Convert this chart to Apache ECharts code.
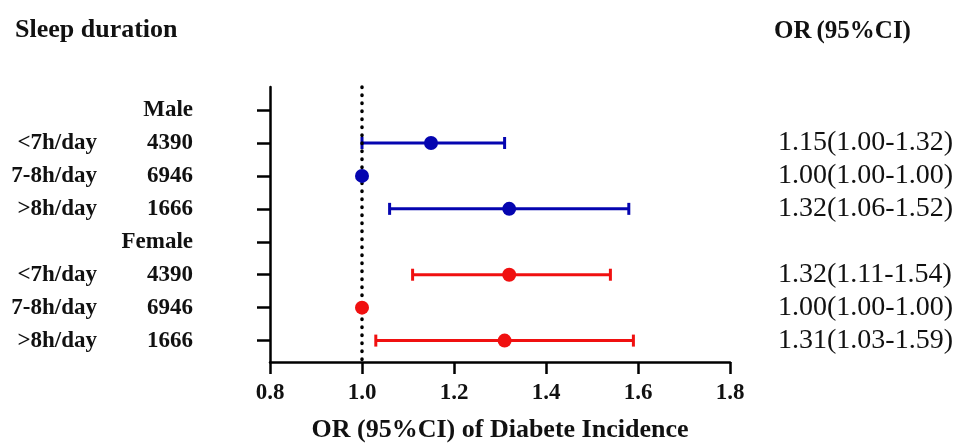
<!DOCTYPE html>
<html>
<head>
<meta charset="utf-8">
<script src="https://cdn.jsdelivr.net/npm/echarts@6/dist/echarts.min.js"></script>
<style>html,body{margin:0;padding:0;background:#fff;}#c{width:956px;height:448px;}</style>
</head>
<body>
<div id="c"></div>
<script>
// Rows, top to bottom
const rowNames  = ['', '<7h/day', '7-8h/day', '>8h/day', '', '<7h/day', '7-8h/day', '>8h/day'];
const rowCounts = ['Male', '4390', '6946', '1666', 'Female', '4390', '6946', '1666'];
const rowGroup  = ['', 'Male', 'Male', 'Male', '', 'Female', 'Female', 'Female'];
// Values
const orPoint = [null, 1.15, 1.00, 1.32, null, 1.32, 1.00, 1.31];
const orLower = [null, 1.00, 1.00, 1.06, null, 1.11, 1.00, 1.03];
const orUpper = [null, 1.31, 1.00, 1.58, null, 1.54, 1.00, 1.59];
// Text column
const orText = ['', '1.15(1.00-1.32)', '1.00(1.00-1.00)', '1.32(1.06-1.52)', '', '1.32(1.11-1.54)', '1.00(1.00-1.00)', '1.31(1.03-1.59)'];
const xTicks = [0.8, 1.0, 1.2, 1.4, 1.6, 1.8];
const groupColors = { Male: '#0505b0', Female: '#f01010' };

const FONT = '"Liberation Serif", "Times New Roman", serif';
const rowPos = rowNames.map((_, i) => i + 1);

function buildSeries(group) {
  const pts = [], bars = [];
  rowGroup.forEach((g, i) => {
    if (g !== group || orPoint[i] == null) return;
    pts.push([orPoint[i], i + 1]);
    if (orUpper[i] > orLower[i]) bars.push([orLower[i], orUpper[i], i + 1]);
  });
  return { pts, bars };
}

const series = [];
['Male', 'Female'].forEach((g, gi) => {
  const d = buildSeries(g);
  const color = groupColors[g];
  const bar = {
    type: 'custom',
    name: g + ' CI',
    z: 2,
    silent: true,
    data: d.bars,
    renderItem: function (params, api) {
      const lo = api.coord([api.value(0), api.value(2)]);
      const hi = api.coord([api.value(1), api.value(2)]);
      const h = 6;
      const style = { stroke: color, lineWidth: 3, fill: null };
      return {
        type: 'group',
        children: [
          { type: 'line', shape: { x1: lo[0], y1: lo[1], x2: hi[0], y2: hi[1] }, style },
          { type: 'line', shape: { x1: lo[0], y1: lo[1] - h, x2: lo[0], y2: lo[1] + h }, style },
          { type: 'line', shape: { x1: hi[0], y1: hi[1] - h, x2: hi[0], y2: hi[1] + h }, style }
        ]
      };
    },
    encode: { x: [0, 1], y: 2 }
  };
  if (gi === 0) {
    bar.markLine = {
      symbol: 'none', silent: true, label: { show: false },
      lineStyle: { type: [0.5, 7.5], cap: 'round', width: 3.5, color: '#000' },
      data: [{ xAxis: 1.0 }]
    };
  }
  series.push(bar);
  series.push({
    type: 'scatter', name: g, z: 5,
    symbol: 'circle', symbolSize: 14,
    itemStyle: { color: color, opacity: 1 },
    data: d.pts
  });
});

const chart = echarts.init(document.getElementById('c'));
chart.setOption({
  animation: false,
  backgroundColor: '#fff',
  title: [
    { text: 'Sleep duration', left: 10, top: 12,
      textStyle: { fontFamily: FONT, fontWeight: 'bold', fontSize: 26, color: '#111' } },
    { text: '{b|OR} {n|(95%CI)}', left: 769, top: 14,
      textStyle: { rich: {
        b: { fontFamily: FONT, fontWeight: 'bold', fontSize: 25, color: '#111' },
        n: { fontFamily: FONT, fontSize: 25, color: '#111' } } } }
  ],
  grid: { left: 270, right: 226, top: 87, bottom: 79, containLabel: false },
  xAxis: {
    type: 'value', min: 0.8, max: 1.8, interval: 0.2,
    axisLine: { show: true, lineStyle: { color: '#000', width: 2.5 } },
    axisTick: { show: true, length: 12, lineStyle: { color: '#000', width: 2.5 } },
    splitLine: { show: false },
    axisLabel: { margin: 20, fontFamily: FONT, fontWeight: 'bold', fontSize: 23, color: '#111',
      formatter: v => v.toFixed(1) },
    name: 'OR (95%CI) of Diabete Incidence', nameLocation: 'middle', nameGap: 55,
    nameTextStyle: { fontFamily: FONT, fontWeight: 'bold', fontSize: 26, color: '#111' }
  },
  yAxis: [
    {
      type: 'value', inverse: true, min: 0.3, max: 8.65, position: 'left',
      axisLine: { show: true, lineStyle: { color: '#000', width: 2.5 } },
      axisTick: { show: true, length: 13, customValues: rowPos, lineStyle: { color: '#000', width: 2.5 } },
      splitLine: { show: false },
      axisLabel: {
        customValues: rowPos, margin: 77,
        formatter: v => {
          const i = Math.round(v) - 1;
          return rowNames[i] ? '{a|' + rowNames[i] + '}{b|' + rowCounts[i] + '}' : '{b|' + rowCounts[i] + '}';
        },
        rich: {
          a: { width: 90, align: 'right', fontFamily: FONT, fontWeight: 'bold', fontSize: 23, color: '#111' },
          b: { width: 96, align: 'right', fontFamily: FONT, fontWeight: 'bold', fontSize: 23, color: '#111' }
        }
      }
    },
    {
      type: 'value', inverse: true, min: 0.3, max: 8.65, position: 'right',
      axisLine: { show: false }, axisTick: { show: false }, splitLine: { show: false },
      axisLabel: {
        customValues: rowPos.filter((p, i) => orText[i]), margin: 48,
        formatter: v => orText[Math.round(v) - 1],
        fontFamily: FONT, fontSize: 28, color: '#111', align: 'left'
      }
    }
  ],
  series: series
});
</script>
</body>
</html>
